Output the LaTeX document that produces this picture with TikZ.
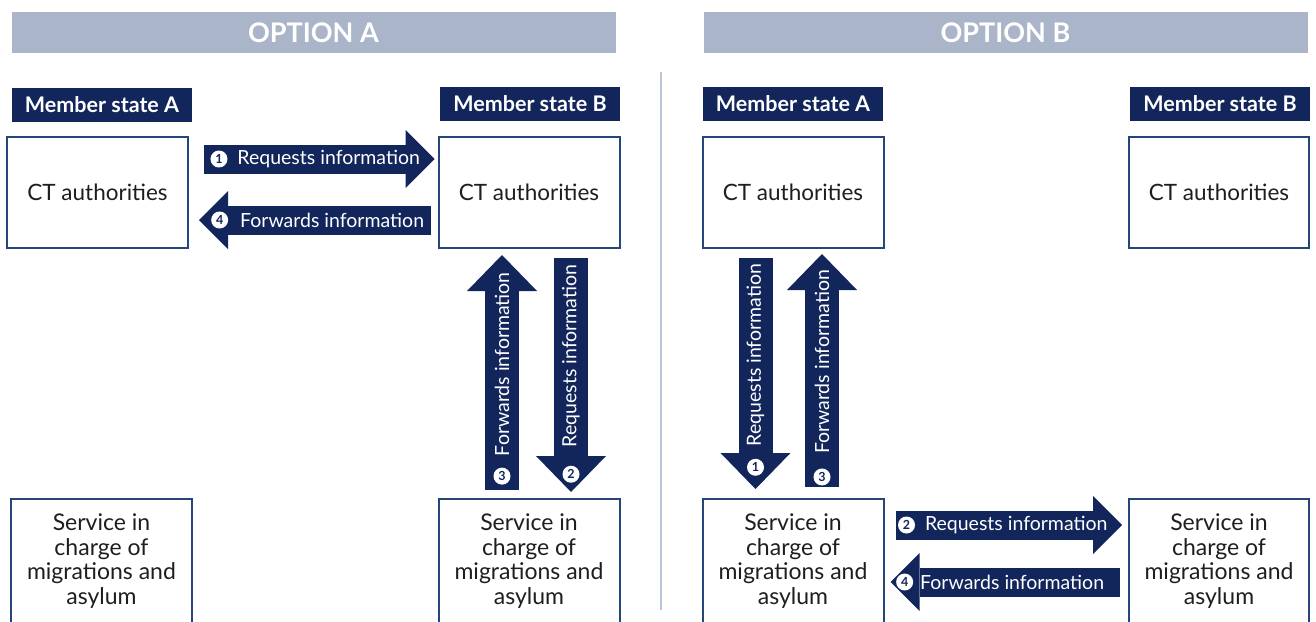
\documentclass[tikz,border=0pt]{standalone}
\usepackage{fontspec}
\setmainfont{Lato}
\usetikzlibrary{positioning,arrows.meta}

\definecolor{navy}{RGB}{18,38,92}
\definecolor{boxline}{RGB}{36,70,120}
\definecolor{bannergrey}{RGB}{170,181,201}
\definecolor{divider}{RGB}{185,196,214}
\definecolor{bodytext}{RGB}{30,30,30}

\begin{document}
\begin{tikzpicture}[x=1pt, y=-1pt,
  banner/.style={fill=bannergrey, minimum width=604pt, minimum height=41pt, inner sep=0pt, text=white, font=\fontsize{27}{27}\selectfont\bfseries},
  state/.style={fill=navy, text=white, minimum width=180pt, minimum height=34pt, inner sep=0pt, font=\fontsize{21.5}{21.5}\selectfont\bfseries},
  ctbox/.style={draw=boxline, line width=2pt, minimum width=181pt, minimum height=111pt, text=bodytext, font=\fontsize{22.5}{22.5}\selectfont},
  svbox/.style={ctbox, minimum height=124pt, align=center, font=\fontsize{23}{24.5}\selectfont},
  harrow/.style={navy, line width=29pt, -{Triangle[length=29pt, width=58pt, line width=0pt]}},
  varrow/.style={navy, line width=34pt, -{Triangle[length=36pt, width=70pt, line width=0pt]}},
  lab/.style={text=white, inner sep=0pt, outer sep=0pt, font=\fontsize{19.5}{19.5}\selectfont},
  vlab/.style={lab, rotate=90, anchor=west},
  num/.style={circle, fill=white, text=navy, inner sep=0pt, outer sep=0pt, minimum size=17pt, font=\fontsize{12.5}{12.5}\selectfont\bfseries}]
  \useasboundingbox (0,0) rectangle (1316,621);

  % headings and divider
  \node[banner] (optA) at (313.5,32.5) {OPTION A};
  \node[banner] (optB) at (1005.5,32.5) {OPTION B};
  \draw[divider, line width=1.2pt] (661,72) -- (661,610);

  % option A
  \node[state] (msAA) at (102,104.5) {Member state A};
  \node[state] (msAB) at (530,104) {Member state B};
  \node[ctbox] (ctAA) at (97.5,192.5) {CT authorities};
  \node[ctbox] (ctAB) at (529,192.5) {CT authorities};
  \node[svbox] (svAA) at (101.5,561) {Service in\\charge of\\migrations and\\asylum};
  \node[svbox] (svAB) at (529,561) {Service in\\charge of\\migrations and\\asylum};

  \draw[harrow] ([xshift=15pt, yshift=33.5pt]ctAA.east) -- ([xshift=-3pt, yshift=33.5pt]ctAB.west)
    node[lab, pos=.541] (reqA) {Requests information};
  \node[num, left=10pt of reqA] (n1a) {1};
  \draw[harrow] ([xshift=-7pt, yshift=-27.5pt]ctAB.west) -- ([xshift=10pt, yshift=-27.5pt]ctAA.east)
    node[lab, pos=.425] (fwdA) {Forwards information};
  \node[num, left=12pt of fwdA] (n4a) {4};

  \draw[varrow] ([xshift=-27pt, yshift=8pt]svAB.north) -- ([xshift=-27pt, yshift=-6pt]ctAB.south)
    node[num, pos=.059] (n3a) {3};
  \node[vlab] at ([yshift=20pt]n3a.center) {Forwards information};
  \draw[varrow] ([xshift=42pt, yshift=-9pt]ctAB.south) -- ([xshift=42pt, yshift=6pt]svAB.north)
    node[num, pos=.924] (n2a) {2};
  \node[vlab] at ([yshift=27pt]n2a.center) {Requests information};

  % option B
  \node[state] (msBA) at (793,104) {Member state A};
  \node[state] (msBB) at (1220,104) {Member state B};
  \node[ctbox] (ctBA) at (793,192.5) {CT authorities};
  \node[ctbox, minimum width=180pt] (ctBB) at (1219,192.5) {CT authorities};
  \node[svbox] (svBA) at (793,561) {Service in\\charge of\\migrations and\\asylum};
  \node[svbox, minimum width=180pt] (svBB) at (1219,561) {Service in\\charge of\\migrations and\\asylum};

  \draw[varrow] ([xshift=-37.5pt, yshift=-9pt]ctBA.south) -- ([xshift=-37.5pt, yshift=9pt]svBA.north)
    node[num, pos=.906] (n1b) {1};
  \node[vlab] at ([yshift=21pt]n1b.center) {Requests information};
  \draw[varrow] ([xshift=29pt, yshift=11pt]svBA.north) -- ([xshift=29pt, yshift=-5pt]ctBA.south)
    node[num, pos=.043] (n3b) {3};
  \node[vlab] at ([yshift=23pt]n3b.center) {Forwards information};

  \draw[harrow] ([xshift=11pt, yshift=36pt]svBA.east) -- ([xshift=-6pt, yshift=36pt]svBB.west)
    node[lab, pos=.533] (reqB) {Requests information};
  \node[num, left=10pt of reqB] (n2b) {2};
  \draw[harrow] ([xshift=-8pt, yshift=-21pt]svBB.west) -- ([xshift=6pt, yshift=-21pt]svBA.east)
    node[lab, pos=.47] (fwdB) {Forwards information};
  \node[num, left=7pt of fwdB] (n4b) {4};
\end{tikzpicture}
\end{document}
